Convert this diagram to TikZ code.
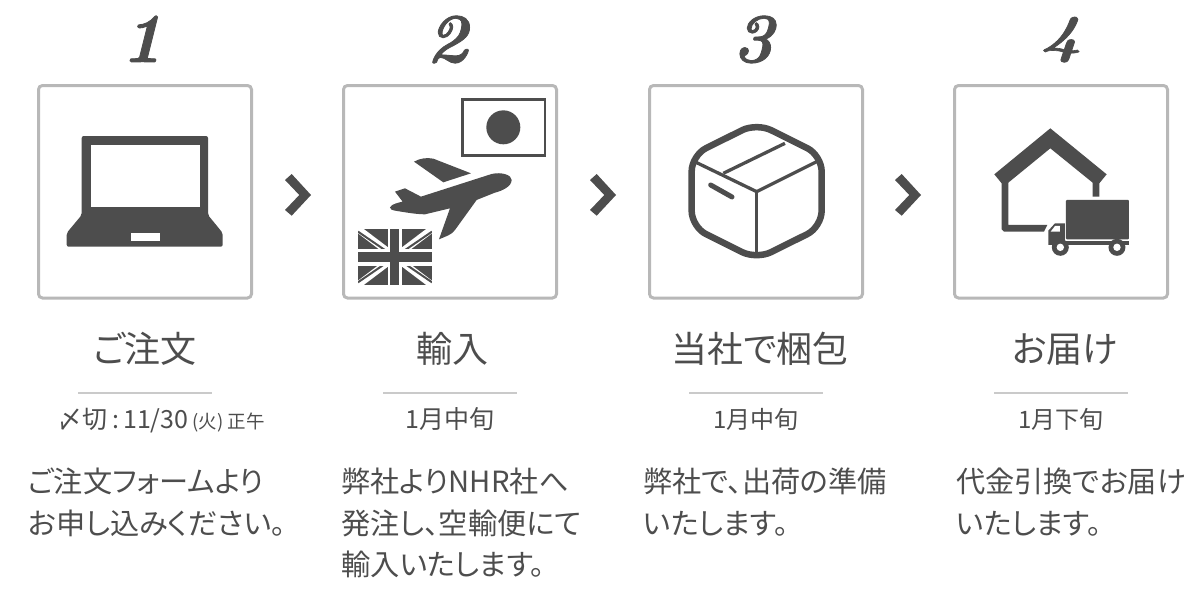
\documentclass[tikz,border=0pt]{standalone}
\usepackage{fontspec}
\setmainfont{Noto Sans CJK JP}[RawFeature=+palt]
\newfontfamily\numfont{Latin Modern Roman}[Numbers=Lining,BoldItalicFeatures={FakeBold=1.2}]
\definecolor{ink}{HTML}{4D4D4D}
\definecolor{frame}{HTML}{B8B8B8}
\definecolor{rulec}{HTML}{CACACA}
\tikzset{
  stepbox/.style={draw=frame,line width=3pt,rounded corners=4pt,fill=white},
  dark/.style={fill=ink,draw=none},
  knock/.style={fill=white,draw=none},
  numlabel/.style={font=\numfont\bfseries\itshape\fontsize{70}{70}\selectfont,text=ink,anchor=base,inner sep=0pt},
  numfour/.style={font=\numfont\bfseries\itshape\fontsize{53}{53}\selectfont,text=ink,anchor=base,inner sep=0pt,xscale=1.35,transform shape},
  title/.style={font=\fontsize{36}{36}\selectfont,text=ink,anchor=base,inner sep=0pt},
  sub/.style={font=\fontsize{25}{25}\selectfont,text=ink,anchor=base,inner sep=0pt},
  subs/.style={font=\fontsize{24}{24}\selectfont,text=ink,anchor=base,inner sep=0pt},
  body/.style={font=\fontsize{29.2}{29.2}\selectfont,text=ink,anchor=base west,inner sep=0pt},
  rulel/.style={draw=rulec,line width=1.5pt},
  chev/.style={fill=ink,draw=none},
}
\begin{document}
\begin{tikzpicture}[x=1pt,y=-1pt]
\useasboundingbox (0,0) rectangle (1200,600);
% numbers
\node[numlabel] (n1) at (142,62) {1};
\node[numlabel] (n2) at (447,62) {2};
\node[numlabel] (n3) at (753,62) {3};
\node[numfour] (n4) at (1061,52) {4};
% boxes
\draw[stepbox] (38.5,85.5) rectangle (251.5,298);
\draw[stepbox] (343.5,85.5) rectangle (556.5,298);
\draw[stepbox] (649.5,85.5) rectangle (862.5,298);
\draw[stepbox] (954.5,85.5) rectangle (1167.5,298);
% chevrons
\foreach \dx in {0,305,610}{
  \fill[chev,shift={(\dx,0)}] (285,180)--(291.7,174)--(311,195)--(291.7,215.7)--(285,210)--(299.3,195)--cycle;
}
% laptop
\fill[dark,rounded corners=2pt] (81.7,136)--(208,136)--(208,215)--(222.7,233)--(222.7,246.7)--(66.7,246.7)--(66.7,233)--(81.7,215)--cycle;
\fill[knock] (90.7,145) rectangle (200,206.7);
\fill[knock] (130.7,233.3) rectangle (160,240.7);
% step 2
\begin{scope}[shift={(335,0)},x=0.3333pt,y=-0.3333pt]
  \draw[ink,line width=2.4pt] (382,299) rectangle (630,466);
  \fill[dark] (505,382) circle (17pt);
  \fill[dark] (165,622) .. controls (170,612) and (190,608) .. (203,605) -- (180,575) -- (210,565) -- (258,590) -- (470,522) .. controls (500,515) and (530,525) .. (530,540) .. controls (530,560) and (500,573) .. (480,578) -- (425,600) -- (360,690) .. controls (350,705) and (330,710) .. (312,718) -- (345,625) -- (270,643) .. controls (240,643) and (200,635) .. (180,632) .. controls (170,630) and (165,628) .. (165,622) -- cycle;
  \fill[dark] (237,485) .. controls (255,475) and (275,472) .. (295,476) -- (408,520) -- (325,547) -- cycle;
  \begin{scope}
    \clip (69,687) rectangle (291,855);
    \fill[dark] (69,687) rectangle (291,855);
    \draw[white,line width=7pt] (69,687) -- (291,855);
    \draw[white,line width=7pt] (69,855) -- (291,687);
    \draw[ink,line width=2pt] (69,695) -- (291,847);
    \draw[ink,line width=2pt] (69,847) -- (291,695);
    \fill[knock] (158,687) rectangle (200,855);
    \fill[knock] (69,746) rectangle (291,797);
    \fill[dark] (165,687) rectangle (193,855);
    \fill[dark] (69,755) rectangle (291,787);
  \end{scope}
\end{scope}
% step 3
\begin{scope}[shift={(640,0)},x=0.3333pt,y=-0.3333pt]
  \draw[ink,line width=6.5pt,rounded corners=16pt,line join=round] (350,369) -- (545,466) -- (545,681) -- (350,778) -- (155,681) -- (155,466) -- cycle;
  \draw[ink,line width=3.3pt,line join=round] (168,487) -- (350,575) -- (530,485);
  \draw[ink,line width=3.3pt] (350,575) -- (350,760);
  \draw[ink,line width=3.3pt] (250,520) -- (435,430);
  \draw[ink,line width=5pt,line cap=round] (212,555) -- (276,591);
\end{scope}
% step 4
\begin{scope}[shift={(900,0)},x=0.3333pt,y=-0.3333pt]
  \fill[dark] (451,385) -- (620,523) -- (598,550) -- (598,590) -- (578,590) -- (578,548) -- (451,445) -- (325,548) -- (325,675) -- (442,675) -- (432,695) -- (312,695) -- (305,688) -- (305,550) -- (283,523) -- cycle;
  \fill[dark,rounded corners=1pt] (498,600) rectangle (687,718);
  \fill[dark] (445,735) -- (445,692) -- (465,670) -- (495,670) -- (495,735) -- cycle;
  \fill[dark] (495,722) rectangle (687,735);
  \fill[knock] (452,695) -- (465,678) -- (480,678) -- (480,695) -- cycle;
  \fill[dark] (481,742) circle (8.5pt);
  \fill[dark] (651,742) circle (8.5pt);
  \fill[knock] (481,742) circle (3.7pt);
  \fill[knock] (651,742) circle (3.7pt);
\end{scope}
% titles
\node[title] (t1) at (145,362) {ご注文};
\node[title] (t2) at (452,362) {輸入};
\node[title] (t3) at (760,362) {当社で梱包};
\node[title] (t4) at (1065,362) {お届け};
% rules
\coordinate (r1a) at (78,393); \coordinate (r1b) at (212,393);
\coordinate (r2a) at (383,393); \coordinate (r2b) at (517,393);
\coordinate (r3a) at (689,393); \coordinate (r3b) at (823,393);
\coordinate (r4a) at (994,393); \coordinate (r4b) at (1128,393);
\draw[rulel] (r1a) -- (r1b);
\draw[rulel] (r2a) -- (r2b);
\draw[rulel] (r3a) -- (r3b);
\draw[rulel] (r4a) -- (r4b);
% sublines
\node[sub] (s1) at (161.5,428) {〆切\,:\,11/30\,{\fontsize{18.5}{18.5}\selectfont (火) 正午}};
\node[sub] (s2) at (450,428) {1月中旬};
\node[subs] (s3) at (756,428) {1月中旬};
\node[subs] (s4) at (1061,428) {1月下旬};
% body
\node[body] (b1a) at (28,492) {ご注文フォームより};
\node[body] (b1b) at (28,534) {お申し込みください。};
\node[body] (b2a) at (341,492) {弊社よりNHR社へ};
\node[body] (b2b) at (341,534) {発注し、空輸便にて};
\node[body] (b2c) at (341,575) {輸入いたします。};
\node[body] (b3a) at (643,492) {弊社で、出荷の準備};
\node[body] (b3b) at (643,534) {いたします。};
\node[body] (b4a) at (956,492) {代金引換でお届け};
\node[body] (b4b) at (956,534) {いたします。};
\end{tikzpicture}
\end{document}
